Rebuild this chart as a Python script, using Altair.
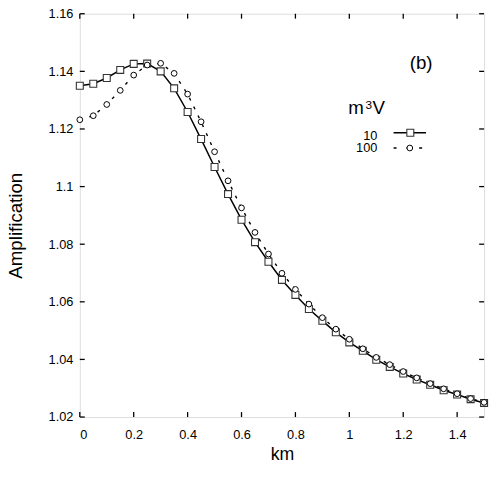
import altair as alt
import pandas as pd

# ---- data ----
km = [0.00, 0.05, 0.10, 0.15, 0.20, 0.25, 0.30, 0.35, 0.40, 0.45,
      0.50, 0.55, 0.60, 0.65, 0.70, 0.75, 0.80, 0.85, 0.90, 0.95,
      1.00, 1.05, 1.10, 1.15, 1.20, 1.25, 1.30, 1.35, 1.40, 1.45, 1.50]

amp_10 = [1.1350, 1.1357, 1.1377, 1.1405, 1.1426, 1.1427, 1.1400, 1.1341, 1.1259, 1.1165,
          1.1068, 1.0974, 1.0885, 1.0807, 1.0739, 1.0676, 1.0624, 1.0575, 1.0534, 1.0494,
          1.0459, 1.0430, 1.0399, 1.0374, 1.0351, 1.0330, 1.0312, 1.0293, 1.0278, 1.0262,
          1.0249]

amp_100 = [1.1232, 1.1246, 1.1285, 1.1334, 1.1387, 1.1422, 1.1428, 1.1393, 1.1321, 1.1225,
           1.1121, 1.1020, 1.0926, 1.0841, 1.0766, 1.0699, 1.0643, 1.0592, 1.0545, 1.0505,
           1.0470, 1.0437, 1.0407, 1.0382, 1.0358, 1.0336, 1.0316, 1.0298, 1.0281, 1.0264,
           1.0251]

series_names = ["10", "100"]
x_ticks = [0, 0.2, 0.4, 0.6, 0.8, 1, 1.2, 1.4]
y_ticks = [1.02, 1.04, 1.06, 1.08, 1.1, 1.12, 1.14, 1.16]
x_title = "km"
y_title = "Amplification"
panel_label = "(b)"

FONT = "Liberation Sans"
W, H = 411, 410

df10 = pd.DataFrame({"km": km, "amp": amp_10})
df100 = pd.DataFrame({"km": km, "amp": amp_100})
dfx = pd.DataFrame({"t": x_ticks})
dfy = pd.DataFrame({"t": y_ticks})

xs = alt.Scale(domain=[0, 1.5], nice=False, zero=False)
ys = alt.Scale(domain=[1.02, 1.16], nice=False, zero=False)

xax = alt.Axis(values=x_ticks, format="~g", ticks=False, tickSize=0, domain=False, grid=False,
               labelFont=FONT, labelFontSize=13, labelColor="black", labelPadding=12,
               title=x_title, titleFont=FONT, titleFontSize=18, titleFontWeight="normal",
               titleColor="black", titleX=205.5, titleY=43, titleAlign="center",
               titleBaseline="alphabetic")
yax = alt.Axis(values=y_ticks, format="~g", ticks=False, tickSize=0, domain=False, grid=False,
               labelFont=FONT, labelFontSize=13, labelColor="black", labelPadding=7,
               title=y_title, titleFont=FONT, titleFontSize=19, titleFontWeight="normal",
               titleColor="black", titleX=-59, titleY=215, titleAngle=270, titleAlign="center",
               titleBaseline="alphabetic")

line10 = alt.Chart(df10).mark_line(color="black", strokeWidth=1.5).encode(
    x=alt.X("km:Q", scale=xs, axis=xax),
    y=alt.Y("amp:Q", scale=ys, axis=yax),
)
line100 = alt.Chart(df100).mark_line(color="black", strokeWidth=1.4, strokeDash=[3, 7]).encode(
    x=alt.X("km:Q", scale=xs), y=alt.Y("amp:Q", scale=ys)
)
pts10 = alt.Chart(df10).mark_point(shape="square", size=50, filled=True, fill="white",
                                   stroke="#333333", strokeWidth=1.1, opacity=1).encode(
    x=alt.X("km:Q", scale=xs), y=alt.Y("amp:Q", scale=ys)
)
pts100 = alt.Chart(df100).mark_point(shape="circle", size=34, filled=True, fill="white",
                                     stroke="black", strokeWidth=1.0, opacity=1).encode(
    x=alt.X("km:Q", scale=xs), y=alt.Y("amp:Q", scale=ys)
)

# inward tick marks on all four sides
tk = dict(color="black", strokeWidth=1.3)
tick_b = alt.Chart(dfx).mark_rule(**tk).encode(x=alt.X("t:Q", scale=xs), y=alt.value(H), y2=alt.value(H - 5))
tick_t = alt.Chart(dfx).mark_rule(**tk).encode(x=alt.X("t:Q", scale=xs), y=alt.value(0), y2=alt.value(5))
tick_l = alt.Chart(dfy).mark_rule(**tk).encode(y=alt.Y("t:Q", scale=ys), x=alt.value(0), x2=alt.value(5))
tick_r = alt.Chart(dfy).mark_rule(**tk).encode(y=alt.Y("t:Q", scale=ys), x=alt.value(W), x2=alt.value(W - 5))

# legend and panel label
one = pd.DataFrame({"s": [series_names[0]]})
two = pd.DataFrame({"s": [series_names[1]]})
lab_b = alt.Chart(pd.DataFrame({"s": [panel_label]})).mark_text(
    font=FONT, fontSize=19, align="center", baseline="alphabetic", color="black"
).encode(text="s:N", x=alt.value(347), y=alt.value(55.7))
leg_m = alt.Chart(pd.DataFrame({"s": ["m"]})).mark_text(
    font=FONT, fontSize=19, align="left", baseline="alphabetic", color="black"
).encode(text="s:N", x=alt.value(273), y=alt.value(102.3))
leg_3 = alt.Chart(pd.DataFrame({"s": ["3"]})).mark_text(
    font=FONT, fontSize=12, align="left", baseline="alphabetic", color="black"
).encode(text="s:N", x=alt.value(290.5), y=alt.value(96.7))
leg_V = alt.Chart(pd.DataFrame({"s": ["V"]})).mark_text(
    font=FONT, fontSize=19, align="left", baseline="alphabetic", color="black"
).encode(text="s:N", x=alt.value(297.5), y=alt.value(102.3))
leg_t1 = alt.Chart(one).mark_text(font=FONT, fontSize=13, align="right", baseline="alphabetic",
                                  color="black").encode(text="s:N", x=alt.value(302.5), y=alt.value(128.3))
leg_t2 = alt.Chart(two).mark_text(font=FONT, fontSize=13, align="right", baseline="alphabetic",
                                  color="black").encode(text="s:N", x=alt.value(302.5), y=alt.value(140.5))
leg_l1 = alt.Chart(one).mark_rule(color="black", strokeWidth=1.5).encode(
    x=alt.value(319), x2=alt.value(352), y=alt.value(121))
leg_l2 = alt.Chart(two).mark_rule(color="black", strokeWidth=1.4, strokeDash=[3, 10]).encode(
    x=alt.value(319), x2=alt.value(352), y=alt.value(136.5))
leg_p1 = alt.Chart(one).mark_point(shape="square", size=50, filled=True, fill="white",
                                   stroke="#333333", strokeWidth=1.1, opacity=1).encode(
    x=alt.value(336), y=alt.value(121))
leg_p2 = alt.Chart(two).mark_point(shape="circle", size=34, filled=True, fill="white",
                                   stroke="black", strokeWidth=1.0, opacity=1).encode(
    x=alt.value(335.5), y=alt.value(136.5))

chart = alt.layer(
    line10, line100, pts10, pts100,
    tick_b, tick_t, tick_l, tick_r,
    lab_b, leg_m, leg_3, leg_V, leg_t1, leg_t2, leg_l1, leg_l2, leg_p1, leg_p2,
).properties(
    width=W, height=H,
    autosize=alt.AutoSizeParams(type="none"),
    padding={"left": 73, "top": 2, "right": 5, "bottom": 50},
).configure_view(
    stroke="black", strokeWidth=2
).configure(background="white")

chart.save("out.html", embed_options={"renderer": "svg", "actions": False})
